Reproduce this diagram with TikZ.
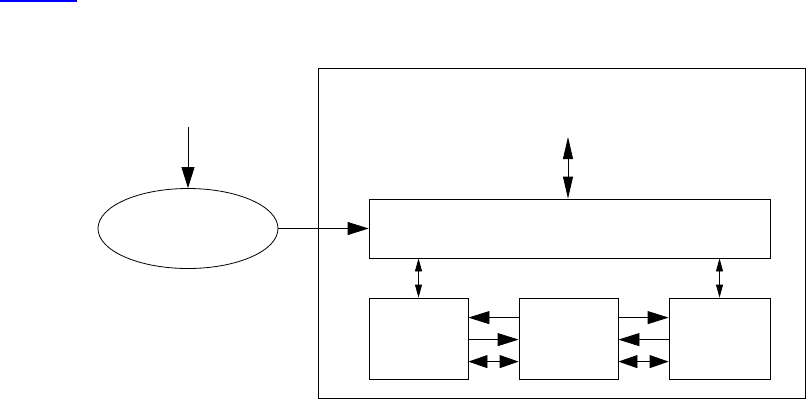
\documentclass[tikz,border=0pt]{standalone}
\usetikzlibrary{arrows.meta,shapes.geometric}

\tikzset{
  unit/.style={draw,line width=0.8pt,inner sep=0pt,minimum height=81pt},
  onetip/.style={line width=0.8pt,-{Triangle[length=21pt,width=13pt]}},
  twotip/.style={line width=0.8pt,{Triangle[length=19pt,width=13pt]}-{Triangle[length=19pt,width=13pt]}},
  vtip/.style={line width=0.8pt,{Triangle[length=13pt,width=7pt]}-{Triangle[length=13pt,width=7pt]}},
}

\begin{document}
\begin{tikzpicture}[x=1pt,y=-1pt]
 \useasboundingbox (0,0) rectangle (810,400);
 \draw[blue,line width=1.6pt] (0,0.8) -- (77,0.8);

 % outer frame and the shared block
 \node[draw,line width=0.8pt,minimum width=487pt,minimum height=330pt] (frame) at (561.5,233) {};
 \node[draw,line width=0.8pt,inner sep=0pt,minimum width=401pt,minimum height=59pt] (bus) at (569.5,228.5) {};
 \node[draw,ellipse,line width=0.8pt,inner sep=0pt,minimum width=180pt,minimum height=80pt] (src) at (188,228.5) {};

 % three units
 \node[unit,minimum width=99pt] (lft) at (418.5,338.5) {};
 \node[unit,minimum width=99pt] (mid) at (568.5,338.5) {};
 \node[unit,minimum width=101pt] (rgt) at (719.5,338.5) {};

 \coordinate (feed) at (188,127);
 \coordinate (io) at (568,137);

 \draw[onetip] (feed) -- (src.north);
 \draw[onetip] (src.east) -- (src.east -| bus.west);
 \draw[vtip,{Triangle[length=22pt,width=10pt]}-{Triangle[length=22pt,width=10pt]}] (io) -- (io |- bus.north);
 \draw[vtip] (lft.north |- bus.south) -- (lft.north);
 \draw[vtip] (rgt.north |- bus.south) -- (rgt.north);

 % links between units
 \draw[onetip] ([yshift=-20pt]mid.north west) -- ([yshift=-20pt]lft.north east);
 \draw[onetip] ([yshift=-42pt]lft.north east) -- ([yshift=-42pt]mid.north west);
 \draw[twotip] ([yshift=-64pt]lft.north east) -- ([yshift=-64pt]mid.north west);
 \draw[onetip] ([yshift=-20pt]mid.north east) -- ([yshift=-20pt]rgt.north west);
 \draw[onetip] ([yshift=-42pt]rgt.north west) -- ([yshift=-42pt]mid.north east);
 \draw[twotip] ([yshift=-64pt]mid.north east) -- ([yshift=-64pt]rgt.north west);
\end{tikzpicture}
\end{document}
